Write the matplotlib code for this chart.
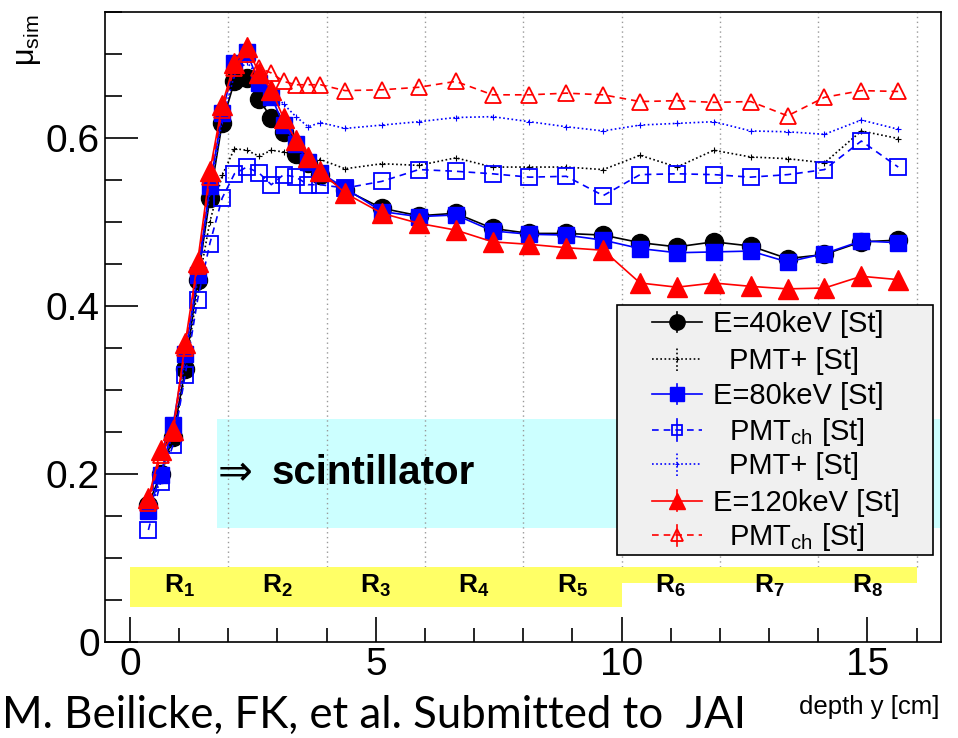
import matplotlib
matplotlib.use('Agg')
import matplotlib.pyplot as plt
from matplotlib.patches import Rectangle
from matplotlib.ticker import MultipleLocator

plt.rcParams['font.family'] = ['Liberation Sans', 'DejaVu Sans']
plt.rcParams['mathtext.fontset'] = 'custom'
plt.rcParams['mathtext.rm'] = 'Liberation Sans'
plt.rcParams['mathtext.bf'] = 'Liberation Sans:bold'

# depth positions of the simulated slices [cm]
depth = [0.375, 0.625, 0.875, 1.125, 1.375, 1.625, 1.875, 2.125, 2.375, 2.625,
         2.875, 3.125, 3.375, 3.625, 3.875, 4.375, 5.125, 5.875, 6.625, 7.375,
         8.125, 8.875, 9.625, 10.375, 11.125, 11.875, 12.625, 13.375, 14.125,
         14.875, 15.625]

mu_40 = [0.163, 0.200, 0.244, 0.325, 0.430, 0.528, 0.617, 0.667, 0.671, 0.646,
         0.623, 0.607, 0.581, 0.570, 0.556, 0.538, 0.516, 0.507, 0.510, 0.492,
         0.486, 0.486, 0.484, 0.475, 0.470, 0.476, 0.471, 0.456, 0.461, 0.476,
         0.478]
pmtp_40 = [0.150, 0.195, 0.240, 0.320, 0.420, 0.500, 0.555, 0.587, 0.585, 0.578,
           0.585, 0.583, 0.580, 0.576, 0.574, 0.563, 0.569, 0.567, 0.576, 0.565,
           0.565, 0.565, 0.562, 0.579, 0.565, 0.585, 0.577, 0.575, 0.570, 0.608,
           0.599]
mu_80 = [0.155, 0.198, 0.258, 0.343, 0.437, 0.542, 0.629, 0.689, 0.702, 0.665,
         0.649, 0.615, 0.593, 0.571, 0.558, 0.540, 0.512, 0.506, 0.508, 0.489,
         0.485, 0.484, 0.478, 0.468, 0.463, 0.464, 0.465, 0.452, 0.462, 0.477,
         0.475]
pmtch_80 = [0.133, 0.190, 0.234, 0.318, 0.407, 0.474, 0.528, 0.557, 0.565, 0.558,
            0.544, 0.556, 0.553, 0.544, 0.544, 0.540, 0.548, 0.562, 0.560, 0.557,
            0.553, 0.554, 0.531, 0.556, 0.557, 0.556, 0.553, 0.556, 0.562, 0.596,
            0.565]
pmtp_80 = [0.150, 0.195, 0.250, 0.335, 0.430, 0.535, 0.620, 0.675, 0.690, 0.672,
           0.655, 0.640, 0.625, 0.613, 0.618, 0.611, 0.615, 0.619, 0.624, 0.625,
           0.619, 0.613, 0.608, 0.615, 0.617, 0.619, 0.608, 0.607, 0.604, 0.621,
           0.610]
mu_120 = [0.171, 0.228, 0.252, 0.356, 0.452, 0.560, 0.639, 0.689, 0.708, 0.677,
          0.657, 0.623, 0.597, 0.577, 0.560, 0.534, 0.510, 0.498, 0.490, 0.476,
          0.473, 0.469, 0.466, 0.427, 0.422, 0.427, 0.423, 0.420, 0.421, 0.435,
          0.431]
pmtch_120 = [0.165, 0.222, 0.248, 0.350, 0.447, 0.553, 0.633, 0.683, 0.700, 0.683,
             0.677, 0.667, 0.663, 0.663, 0.663, 0.656, 0.657, 0.660, 0.667, 0.651,
             0.651, 0.653, 0.651, 0.643, 0.644, 0.642, 0.643, 0.626, 0.648, 0.656,
             0.655]

region_labels = ['1', '2', '3', '4', '5', '6', '7', '8']
region_centers = [1, 3, 5, 7, 9, 11, 13, 15]
region_edges = [2, 4, 6, 8, 10, 12, 14, 16]

legend_labels = ['E=40keV [St]', 'PMT+ [St]', 'E=80keV [St]', r'PMT$_{\rm ch}$ [St]',
                 'PMT+ [St]', 'E=120keV [St]', r'PMT$_{\rm ch}$ [St]']

fig = plt.figure(figsize=(9.58, 7.38), dpi=100)
ax = fig.add_axes([0.110, 0.1305, 0.8725, 0.8537])
ax.set_xlim(-0.5, 16.5)
ax.set_ylim(0, 0.75)

# scintillator band and region boxes
ax.add_patch(Rectangle((1.77, 0.135), 20, 0.130, facecolor='#ccffff', edgecolor='none', zorder=0))
ax.vlines(region_edges, 0.089, 0.75, colors='#999999', linestyles=(0, (1, 2.5)), linewidth=1.0, zorder=1)
ax.add_patch(Rectangle((0, 0.041), 10, 0.048, facecolor='#ffff66', edgecolor='none', zorder=1))
ax.add_patch(Rectangle((10, 0.070), 6, 0.019, facecolor='#ffff66', edgecolor='none', zorder=1))
for xc, lab in zip(region_centers, region_labels):
    ax.text(xc, 0.067, r'$\mathbf{R}_{\mathbf{%s}}$' % lab, ha='center', va='center', fontsize=19, zorder=2)

ax.text(1.78, 0.201, '⇒', fontsize=30, va='center', ha='left', family=['DejaVu Sans'])
ax.text(2.89, 0.201, 'scintillator', fontsize=29, fontweight='bold', va='center', ha='left')

dash = (0, (4, 3))
dot = (0, (1, 1.5))
series = [
    (mu_40, dict(color='black', ls='-', marker='o', ms=13)),
    (pmtp_40, dict(color='black', ls=dot, marker='+', ms=4, mew=0.8)),
    (mu_80, dict(color='blue', ls='-', marker='s', ms=12)),
    (pmtch_80, dict(color='blue', ls=dash, marker='s', ms=11, mfc='none', mew=1.3)),
    (pmtp_80, dict(color='blue', ls=dot, marker='+', ms=4, mew=0.8)),
    (mu_120, dict(color='red', ls='-', marker='^', ms=14)),
    (pmtch_120, dict(color='red', ls=dash, marker='^', ms=12, mfc='none', mew=1.3)),
]
for i, (vals, st) in enumerate(series):
    ax.plot(depth, vals, lw=1.2, zorder=3 + i // 2, **st)

# legend box drawn by hand in axes coordinates
ax.add_patch(Rectangle((0.612, 0.1376), 0.378, 0.3968, transform=ax.transAxes,
                       facecolor='#f0f0f0', edgecolor='black', lw=1.2, zorder=10))
row_y = [0.507, 0.449, 0.393, 0.336, 0.282, 0.224, 0.169]
leg_ms = [11, 3, 10, 7, 3, 12, 9]
bar = [0.016, 0.019, 0.016, 0.017, 0.019, 0.016, 0.017]
for i, ((vals, st), lab) in enumerate(zip(series, legend_labels)):
    y = row_y[i]
    c = st['color']
    ax.plot([0.654, 0.714], [y, y], transform=ax.transAxes, color=c, ls=st['ls'], lw=1.2,
            clip_on=False, zorder=11)
    ax.plot([0.684, 0.684], [y - bar[i], y + bar[i]], transform=ax.transAxes, color=c,
            ls='-' if st['ls'] != dot else dot, lw=1.2, clip_on=False, zorder=11)
    ax.plot([0.684], [y], transform=ax.transAxes, color=c, marker=st['marker'], ms=leg_ms[i],
            mfc=st.get('mfc', c), mew=st.get('mew', 1.0), clip_on=False, zorder=12)
    tx = 0.727 if lab.startswith('E') else 0.746
    ax.text(tx, y - 0.016, lab, transform=ax.transAxes, fontsize=21, va='baseline', ha='left', zorder=12)

ax.xaxis.set_major_locator(MultipleLocator(5))
ax.xaxis.set_minor_locator(MultipleLocator(1))
ax.yaxis.set_minor_locator(MultipleLocator(0.05))
ax.tick_params(which='both', direction='in', top=False, right=False, labelsize=28, width=1.2)
ax.tick_params(axis='y', which='major', length=24, pad=4)
ax.tick_params(axis='y', which='minor', length=12)
ax.tick_params(axis='x', which='major', length=18, pad=4)
ax.tick_params(axis='x', which='minor', length=10)
ax.set_yticks([0, 0.2, 0.4, 0.6])
ax.set_yticklabels(['0', '0.2', '0.4', '0.6'])
for s in ax.spines.values():
    s.set_linewidth(1.2)

fig.text(0.029, 0.945, 'μ$_{\\rm sim}$', rotation=90, fontsize=22, ha='center', va='center')
fig.text(0.981, 0.042, 'depth y [cm]', fontsize=18.5, ha='right', va='center')
fig.text(0.002, 0.031, 'M. Beilicke, FK, et al. Submitted to  JAI', fontsize=31.5,
         ha='left', va='center', family=['Lato', 'DejaVu Sans'])

fig.savefig('out.png', dpi=100)
